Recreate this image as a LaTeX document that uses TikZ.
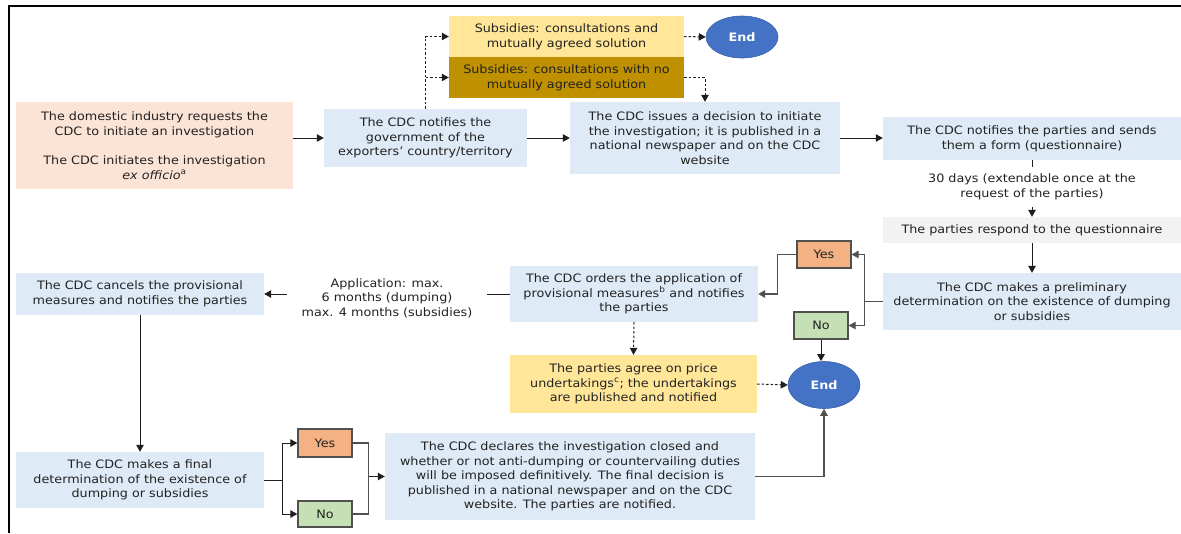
\documentclass[tikz,border=0pt]{standalone}
\usepackage{fontspec}
\setmainfont{DejaVu Sans}[FakeStretch=1.1]
\usetikzlibrary{arrows.meta,shapes.geometric}
\definecolor{bluebox}{HTML}{DEEAF6}
\definecolor{peach}{HTML}{FBE3D5}
\definecolor{lyellow}{HTML}{FFE699}
\definecolor{gold}{HTML}{BF9000}
\definecolor{lgrey}{HTML}{F2F2F2}
\definecolor{yesc}{HTML}{F4B183}
\definecolor{noc}{HTML}{C5E0B4}
\definecolor{endc}{HTML}{4472C4}
\definecolor{endb}{HTML}{3A62AA}
\definecolor{txt}{HTML}{222222}
\definecolor{conn}{HTML}{1E1E1E}
\definecolor{gconn}{HTML}{505050}
\begin{document}
\begin{tikzpicture}[x=1pt,y=-1pt,
  bx/.style={rectangle, inner sep=0pt, align=center, text=txt,
    font=\fontsize{11.6}{14.6}\selectfont},
  yn/.style={rectangle, inner sep=0pt, draw=gconn, line width=1.3pt, text=txt,
    minimum width=54pt, font=\fontsize{11.6}{14.6}\selectfont},
  endnode/.style={ellipse, fill=endc, draw=endb, line width=0.6pt, text=white,
    minimum width=72pt, inner sep=0pt, font=\bfseries\fontsize{11.6}{14.6}\selectfont},
  lbl/.style={rectangle, fill=white, inner sep=0pt, align=center, text=txt,
    font=\fontsize{11.6}{14.6}\selectfont},
  arr/.style={draw=conn, line width=1pt, -{Triangle[length=7pt,width=7.5pt]}},
  ln/.style={draw=conn, line width=1pt},
  garr/.style={draw=gconn, line width=1.3pt, -{Triangle[length=7pt,width=7.5pt]}},
  gln/.style={draw=gconn, line width=1.3pt},
  darr/.style={draw=conn, line width=1pt, dash pattern=on 2.5pt off 2pt, -{Triangle[length=7pt,width=7.5pt]}},
]
\useasboundingbox (0,0) rectangle (1181,533);
\draw[line width=1.2pt, draw=black] (9,533) -- (9,6) -- (1181,6);

% nodes
\node[bx, fill=peach, minimum width=277pt, minimum height=87pt] (b1) at (154.5,145.5)
  {The domestic industry requests the\\CDC to initiate an investigation\\[14.6pt]The CDC initiates the investigation\\\textit{ex officio}\textsuperscript{a}};
\node[bx, fill=bluebox, minimum width=203pt, minimum height=58pt] (b2) at (425.5,138)
  {The CDC notifies the\\government of the\\exporters' country/territory};
\node[bx, fill=lyellow, minimum width=235pt, minimum height=41pt] (s1) at (566.5,36.5)
  {Subsidies: consultations and\\mutually agreed solution};
\node[bx, fill=gold, minimum width=235pt, minimum height=41pt] (s2) at (566.5,77.5)
  {Subsidies: consultations with no\\mutually agreed solution};
\node[endnode, minimum height=42pt] (end1) at (742,37) {End};
\node[bx, fill=bluebox, minimum width=270pt, minimum height=72pt] (b6) at (705,138)
  {The CDC issues a decision to initiate\\the investigation; it is published in a\\national newspaper and on the CDC\\website};
\node[bx, fill=bluebox, minimum width=298pt, minimum height=43pt] (b7) at (1032,138.5)
  {The CDC notifies the parties and sends\\them a form (questionnaire)};
\node[lbl, minimum width=298pt, minimum height=40pt] (l30) at (1032,187)
  {30 days (extendable once at the\\request of the parties)};
\node[bx, fill=lgrey, minimum width=298pt, minimum height=26pt] (b9) at (1032,230)
  {The parties respond to the questionnaire};
\node[bx, fill=bluebox, minimum width=298pt, minimum height=57pt] (b10) at (1032,301.5)
  {The CDC makes a preliminary\\determination on the existence of dumping\\or subsidies};
\node[yn, fill=yesc, minimum height=27pt] (yes1) at (824,254.5) {Yes};
\node[yn, fill=noc, minimum height=27pt] (no1) at (821,325.5) {No};
\node[bx, fill=bluebox, minimum width=248pt, minimum height=56pt] (b12) at (634,294)
  {The CDC orders the application of\\provisional measures\textsuperscript{b} and notifies\\the parties};
\node[bx, fill=lyellow, minimum width=247pt, minimum height=58pt] (b14) at (633.5,384)
  {The parties agree on price\\undertakings\textsuperscript{c}; the undertakings\\are published and notified};
\node[endnode, minimum height=47pt] (end2) at (824,385) {End};
\node[lbl, minimum width=200pt, minimum height=46pt] (lapp) at (387,298)
  {Application: max.\\6 months (dumping)\\max. 4 months (subsidies)};
\node[bx, fill=bluebox, minimum width=248pt, minimum height=42pt] (b17) at (140,294)
  {The CDC cancels the provisional\\measures and notifies the parties};
\node[bx, fill=bluebox, minimum width=248pt, minimum height=56pt] (b19) at (140,480)
  {The CDC makes a final\\determination of the existence of\\dumping or subsidies};
\node[yn, fill=yesc, minimum height=28pt] (yes2) at (325,443) {Yes};
\node[yn, fill=noc, minimum height=26pt] (no2) at (325,514) {No};
\node[bx, fill=bluebox, minimum width=370pt, minimum height=87pt] (b21) at (570,476.5)
  {The CDC declares the investigation closed and\\whether or not anti-dumping or countervailing duties\\will be imposed definitively. The final decision is\\published in a national newspaper and on the CDC\\website. The parties are notified.};

% connectors
\draw[arr] (b1.east |- b2.west) -- (b2.west);
\draw[arr] (b2.east) -- (b6.west);
\draw[arr] (b6.east) -- (b6.east -| b7.west);
\draw[darr] (b2.north) |- (s1.west);
\draw[darr] (b2.north) |- (s2.west);
\draw[darr] (s1.east) -- (end1.west);
\draw[darr] (s2.east) -| (b6.north);
\draw[ln] (b7.south) -- (l30.north);
\draw[arr] (l30.south) -- (b9.north);
\draw[arr] (b9.south) -- (b10.north);
\draw[gln] (b10.west) -- ++(-18,0) coordinate (j1);
\draw[garr] (j1) |- (yes1.east);
\draw[garr] (j1) |- (no1.east);
\draw[garr] (yes1.west) -- ++(-19,0) |- (b12.east);
\draw[arr] (no1.south) -- (no1.south |- end2.north);
\draw[darr] (b12.south) -- (b14.north);
\draw[darr] (b14.east) -- (end2.west);
\draw[ln] (b12.west) -- (b12.west -| lapp.east);
\draw[arr] (lapp.west |- b17.east) -- (b17.east);
\draw[arr] (b17.south) -- (b19.north);
\draw[ln] (b19.east) -- ++(18,0) coordinate (j2);
\draw[arr] (j2) |- (yes2.west);
\draw[arr] (j2) |- (no2.west);
\draw[gln] (yes2.east) -- ++(16,0) coordinate (j3) -- (j3 |- no2.east) -- (no2.east);
\draw[arr] (j3 |- b21.west) -- (b21.west);
\draw[garr] (b21.east) -| (end2.south);
\end{tikzpicture}
\end{document}
